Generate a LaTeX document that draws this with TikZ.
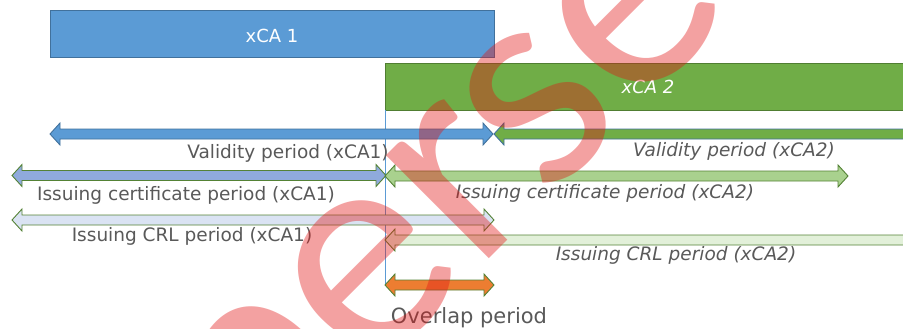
\documentclass[tikz,border=0pt]{standalone}
\usepackage{fontspec}
\setmainfont{DejaVu Sans}
\newfontfamily\wmfont{Carlito}

\definecolor{caBlue}{HTML}{5B9BD5}
\definecolor{caBlueEdge}{HTML}{41719C}
\definecolor{caGreen}{HTML}{70AD47}
\definecolor{caGreenEdge}{HTML}{507E32}
\definecolor{arrowEdge}{HTML}{548235}
\definecolor{certBlue}{HTML}{8FAADC}
\definecolor{certGreen}{HTML}{A9D18E}
\definecolor{crlBlue}{HTML}{DAE3F3}
\definecolor{crlGreen}{HTML}{E2F0D9}
\definecolor{overlapOrange}{HTML}{ED7D31}
\definecolor{labelGray}{HTML}{595959}
\definecolor{stampRed}{RGB}{225,20,20}

\tikzset{
  cabox/.style={rectangle, inner sep=0, line width=0.9pt},
  catext/.style={text=white, inner sep=0, anchor=base, font=\fontsize{18}{22}\selectfont},
  lbl/.style={text=labelGray, inner sep=0, anchor=base, font=\fontsize{18.5}{22}\selectfont},
  lbli/.style={lbl, font=\fontsize{18.5}{22}\selectfont\itshape},
  barrow/.style={line width=0.9pt, line join=miter},
  stamp/.style={text=stampRed, text opacity=0.4, inner sep=0,
    font=\wmfont\fontsize{305}{320}\selectfont}
}

% block arrow with heads at both ends: style, left tip, right tip, centre y
\newcommand{\twoheads}[4]{%
  \draw[barrow,#1] (#2,#4) -- ({#2+10},{#4-11}) -- ({#2+10},{#4-5})
    -- ({#3-10},{#4-5}) -- ({#3-10},{#4-11}) -- (#3,#4)
    -- ({#3-10},{#4+11}) -- ({#3-10},{#4+5}) -- ({#2+10},{#4+5})
    -- ({#2+10},{#4+11}) -- cycle;}
% block arrow with a left head only, running on past the right edge
\newcommand{\lefthead}[3]{%
  \draw[barrow,#1] (#2,#3) -- ({#2+10},{#3-11}) -- ({#2+10},{#3-5})
    -- (960,{#3-5}) -- (960,{#3+5}) -- ({#2+10},{#3+5})
    -- ({#2+10},{#3+11}) -- cycle;}

\begin{document}
\begin{tikzpicture}[x=1pt,y=-1pt]
\useasboundingbox (0,0) rectangle (903,329);
\clip (0,0) rectangle (903,329);

% the two CA lifetimes
\node[cabox, fill=caBlue, draw=caBlueEdge, minimum width=444pt, minimum height=47pt] (ca1) at (272,33.5) {};
\node[catext] (ca1t) at (272,42.5) {xCA 1};
\node[cabox, fill=caGreen, draw=caGreenEdge, minimum width=575pt, minimum height=47pt] (ca2) at (672.5,86.5) {};
\node[catext, font=\fontsize{18}{22}\selectfont\itshape] (ca2t) at (648,94) {xCA 2};

% start of xCA 2 marker
\coordinate (mtop) at (385,110);
\coordinate (mbot) at (385,285);
\draw[caBlue, line width=0.8pt] (mtop) -- (mbot);

% validity periods
\twoheads{fill=caBlue, draw=caBlueEdge}{50}{493}{134}
\lefthead{fill=caGreen, draw=caBlueEdge}{494}{134}
\node[lbl] (v1) at (288,158) {Validity period (xCA1)};
\node[lbli] (v2) at (734,157) {Validity period (xCA2)};

% certificate issuing periods
\twoheads{fill=certBlue, draw=arrowEdge}{12}{386}{175.5}
\twoheads{fill=certGreen, draw=arrowEdge}{385}{848}{176}
\node[lbl] (c1) at (186,200) {Issuing certificate period (xCA1)};
\node[lbli] (c2) at (605,198) {Issuing certificate period (xCA2)};

% CRL issuing periods
\twoheads{fill=crlBlue, draw=arrowEdge}{12}{494}{220}
\lefthead{fill=crlGreen, draw=arrowEdge}{385}{240}
\node[lbl] (r1) at (192,241) {Issuing CRL period (xCA1)};
\node[lbli] (r2) at (676,260) {Issuing CRL period (xCA2)};

% overlap
\twoheads{fill=overlapOrange, draw=arrowEdge}{385}{494}{285}
\node[lbl, font=\fontsize{21}{25}\selectfont] (ov) at (469,323) {Overlap period};

% stamp across the page
\node[stamp, rotate=45] (stampword) at (500,133) {Superseded};
\end{tikzpicture}
\end{document}
